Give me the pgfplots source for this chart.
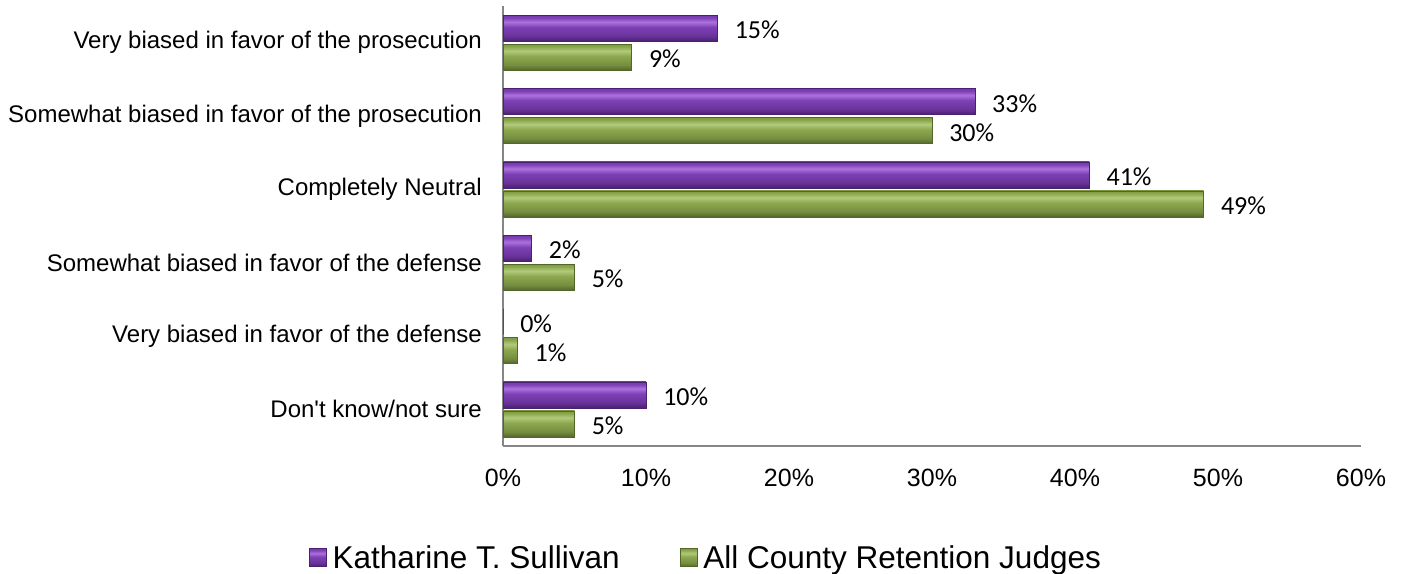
\documentclass[border=0pt]{standalone}
\usepackage{pgfplots}
\pgfplotsset{compat=1.18}
\usepackage{fontspec}
\setmainfont{Liberation Sans}[Ligatures=TeXOff]
\newfontfamily\calib{Carlito}
\definecolor{pTop}{HTML}{7838B0}
\definecolor{pLight}{HTML}{AC72DC}
\definecolor{pMid}{HTML}{7E40B6}
\definecolor{pBot}{HTML}{4A2070}
\definecolor{gTop}{HTML}{7E9A3E}
\definecolor{gLight}{HTML}{B2CA7C}
\definecolor{gMid}{HTML}{8CA84E}
\definecolor{gBot}{HTML}{53672A}
\definecolor{axgray}{HTML}{868686}
\pgfdeclareverticalshading{purplebar}{100bp}{color(0bp)=(pBot); color(25bp)=(pBot); color(35bp)=(pMid!60!pBot); color(52bp)=(pMid); color(62bp)=(pLight); color(70bp)=(pMid); color(75bp)=(pTop); color(100bp)=(pTop)}
\pgfdeclareverticalshading{greenbar}{100bp}{color(0bp)=(gBot); color(25bp)=(gBot); color(35bp)=(gMid!60!gBot); color(52bp)=(gMid); color(62bp)=(gLight); color(70bp)=(gMid); color(75bp)=(gTop); color(100bp)=(gTop)}
\pgfplotsset{
  pbar/.style={bar shift=14.5pt, shading=purplebar, draw=pBot, line width=0.6pt},
  gbar/.style={bar shift=-14.5pt, shading=greenbar, draw=gBot, line width=0.6pt},
}
\begin{document}
\begin{tikzpicture}
\begin{axis}[
  at={(503pt,-446pt)}, anchor=south west,
  scale only axis, width=858pt, height=440pt,
  xbar, bar width=26pt,
  xmin=0, xmax=60, ymin=-0.5, ymax=5.5,
  enlargelimits=false, clip=false,
  axis lines*=left,
  axis line style={axgray, line width=1.3pt},
  xtick={0,10,20,30,40,50,60},
  xticklabels={0\%,10\%,20\%,30\%,40\%,50\%,60\%},
  ytick={0,1,2,3,4,5},
  yticklabels={Don't know/not sure, Very biased in favor of the defense, Somewhat biased in favor of the defense, Completely Neutral, Somewhat biased in favor of the prosecution, Very biased in favor of the prosecution},
  major tick length=0pt,
  xticklabel style={font=\fontsize{25}{30}\selectfont, anchor=north, inner sep=0pt, yshift=-23pt},
  yticklabel style={font=\fontsize{24}{29}\selectfont, anchor=east, inner sep=0pt, xshift=-21pt},
  point meta=x,
  nodes near coords={\pgfmathprintnumber[assume math mode=true]{\pgfplotspointmeta}\%},
  every node near coord/.append style={font=\calib\fontsize{26}{31}\selectfont, anchor=west, inner sep=0pt, xshift=17pt, yshift=-2pt, text=black},
  legend style={at={(0.2354,-0.2534)}, anchor=center, draw=none, fill=none,
    font=\fontsize{31.5}{36}\selectfont, inner sep=0pt,
    nodes={inner sep=0pt},
    /tikz/every odd column/.append style={column sep=6pt},
    /tikz/every even column/.append style={column sep=60pt}},
  legend columns=2,
  legend image code/.code={\path[#1] (-7pt,-9pt) rectangle (10pt,9pt);},
]
% Katharine T. Sullivan
\addplot[pbar] coordinates {(15,5)};
\addlegendentry{Katharine T. Sullivan}
\addplot[pbar, forget plot] coordinates {(33,4)};
\addplot[pbar, forget plot] coordinates {(41,3)};
\addplot[pbar, forget plot] coordinates {(2,2)};
\addplot[pbar, forget plot] coordinates {(0,1)};
\addplot[pbar, forget plot] coordinates {(10,0)};
% All County Retention Judges
\addplot[gbar] coordinates {(9,5)};
\addlegendentry{All County Retention Judges}
\addplot[gbar, forget plot] coordinates {(30,4)};
\addplot[gbar, forget plot] coordinates {(49,3)};
\addplot[gbar, forget plot] coordinates {(5,2)};
\addplot[gbar, forget plot] coordinates {(1,1)};
\addplot[gbar, forget plot] coordinates {(5,0)};
\end{axis}
\pgfresetboundingbox
\path (0pt,0pt) rectangle (1408pt,-573pt);
\end{tikzpicture}
\end{document}
